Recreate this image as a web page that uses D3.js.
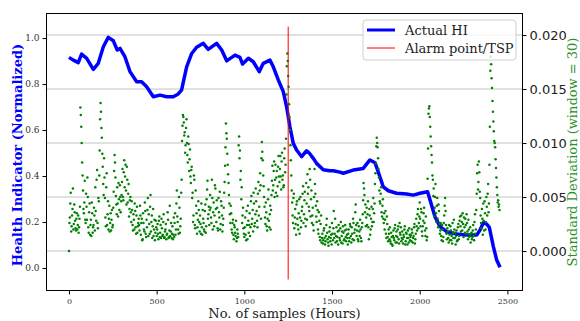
<!DOCTYPE html>
<html>
<head>
<meta charset="utf-8">
<script src="https://d3js.org/d3.v7.min.js"></script>
<style>
  body { margin: 0; background: #fff; }
  svg text { font-family: "DejaVu Serif", serif; }
  .axis path { display: none; }
  .axis line { stroke: #000; }
  .l.axis text, .x.axis text { fill: #333; }
  .r.axis text { font-family: "DejaVu Sans", sans-serif; fill: #222; }
</style>
</head>
<body>
<svg id="chart" width="580" height="321"></svg>
<script>
  // health indicator (blue line)
  var hiSample = [0, 25, 53, 72, 101, 139, 167, 196, 224, 253, 275, 291, 319, 348, 386, 414, 443, 481,
    519, 557, 595, 623, 642, 671, 700, 728, 766, 794, 842, 871, 899, 947, 975, 990, 1023, 1051,
    1085, 1108, 1146, 1165, 1194, 1222, 1241, 1260, 1279, 1298, 1327, 1355, 1370, 1393, 1412, 1450,
    1488, 1507, 1545, 1564, 1621, 1678, 1716, 1745, 1773, 1792, 1821, 1868, 1926, 1963, 2002, 2045,
    2059, 2087, 2116, 2154, 2211, 2268, 2325, 2344, 2363, 2382, 2397, 2420, 2439, 2458];
  var hiValue = [0.916, 0.904, 0.893, 0.930, 0.912, 0.864, 0.890, 0.962, 1.003, 0.988, 0.948, 0.955,
    0.919, 0.854, 0.810, 0.810, 0.788, 0.745, 0.752, 0.745, 0.745, 0.757, 0.774, 0.875, 0.933, 0.960,
    0.977, 0.951, 0.977, 0.948, 0.901, 0.926, 0.916, 0.887, 0.912, 0.897, 0.854, 0.890, 0.904, 0.875,
    0.817, 0.767, 0.701, 0.614, 0.542, 0.513, 0.484, 0.510, 0.500, 0.477, 0.455, 0.427, 0.423, 0.423,
    0.417, 0.412, 0.426, 0.433, 0.470, 0.458, 0.397, 0.353, 0.336, 0.325, 0.322, 0.317, 0.325, 0.332,
    0.296, 0.223, 0.180, 0.158, 0.148, 0.143, 0.143, 0.165, 0.197, 0.191, 0.177, 0.093, 0.035, 0.003];

  // rolling std (window = 30) in units of 1e-3, read every 5 samples (samples 0, 5, 10, ...)
  var stdStep = 5;
  var stdE3 = [
    0.0, 3.1, 5.4, 2.3, 3.9, 2.0, 4.3, 2.8, 1.9, 3.5, 2.4, 1.7, 3.0, 13.3, 11.5, 8.2, 5.6, 3.5, 6.5, 2.6,
    4.1, 6.8, 2.2, 3.6, 1.5, 2.9, 4.5, 1.7, 2.4, 3.3, 5.9, 2.8, 7.5, 2.1, 4.6, 9.3, 13.7, 11.4, 9.0, 6.2,
    8.6, 4.9, 2.3, 7.2, 3.4, 2.0, 4.2, 2.6, 1.9, 3.8, 2.4, 5.5, 8.9, 6.8, 4.3, 5.9, 3.2, 4.8, 6.1, 3.6,
    5.2, 7.6, 4.7, 8.4, 6.9, 5.6, 7.8, 4.5, 6.2, 3.9, 5.0, 2.7, 3.8, 1.9, 2.9, 4.4, 2.2, 3.3, 1.7, 2.6,
    2.4, 4.2, 1.5, 3.0, 1.1, 2.6, 1.8, 3.7, 1.3, 2.2, 4.9, 3.4, 1.6, 5.2, 2.7, 1.2, 3.9, 2.0, 1.0, 2.8,
    1.4, 2.5, 1.1, 3.2, 1.7, 1.2, 2.1, 1.5, 3.4, 1.3, 2.0, 1.1, 1.6, 2.9, 1.3, 4.2, 1.8, 1.2, 2.3, 1.5,
    1.3, 3.5, 2.0, 5.6, 2.7, 1.6, 4.0, 2.3, 5.4, 10.2, 12.6, 11.9, 11.0, 9.8, 12.2, 8.9, 10.6, 7.4, 9.4, 6.3,
    7.8, 5.4, 3.3, 6.6, 2.1, 4.2, 1.6, 2.9, 3.8, 1.8, 2.5, 4.4, 1.5, 3.0, 2.0, 3.7, 1.7, 4.8, 6.5, 3.4,
    2.4, 5.2, 3.1, 6.6, 2.0, 4.5, 3.3, 5.8, 2.7, 4.0, 1.9, 3.6, 5.5, 2.5, 4.2, 1.8, 3.0, 5.4, 7.9, 11.8,
    10.4, 8.0, 6.3, 4.4, 2.6, 3.5, 1.7, 2.9, 1.1, 2.2, 1.4, 0.9, 2.0, 1.3, 10.6, 9.3, 7.4, 5.9, 3.3, 2.1,
    1.3, 3.1, 1.0, 2.4, 4.2, 1.7, 3.5, 2.2, 5.1, 3.0, 1.8, 4.4, 2.6, 5.8, 3.7, 2.2, 6.4, 4.1, 7.2, 3.0,
    10.1, 8.4, 6.0, 4.1, 2.5, 3.6, 1.9, 4.8, 2.8, 3.4, 2.0, 5.2, 7.9, 6.1, 8.3, 6.6, 5.4, 7.4, 6.0, 8.8,
    6.4, 8.8, 5.7, 9.1, 7.0, 6.1, 9.5, 8.0, 14.5, 18.3, 16.2, 13.6, 11.2, 8.4, 5.6, 3.3, 4.9, 2.1, 3.9, 1.5,
    4.6, 2.4, 3.5, 1.6, 5.0, 2.8, 4.1, 6.0, 3.4, 5.5, 2.3, 4.4, 7.1, 5.9, 3.7, 6.6, 4.8, 2.6, 4.0, 1.9,
    7.6, 5.3, 3.2, 4.6, 2.0, 3.6, 1.3, 2.5, 0.8, 1.6, 1.0, 2.1, 0.6, 1.4, 3.0, 1.1, 0.5, 1.8, 0.9, 1.5,
    2.6, 1.0, 3.7, 1.6, 0.8, 2.2, 1.3, 0.6, 1.9, 1.0, 2.7, 1.4, 0.7, 1.7, 1.1, 2.4, 0.9, 1.5, 0.6, 2.0,
    1.2, 2.3, 0.8, 1.6, 3.0, 1.0, 2.0, 4.3, 1.4, 2.6, 0.9, 1.8, 2.9, 1.2, 2.2, 3.4, 6.3, 5.2, 4.3, 3.1,
    2.4, 4.6, 1.1, 3.3, 2.0, 4.1, 2.7, 4.9, 3.5, 6.2, 8.1, 10.5, 9.6, 7.6, 5.6, 4.4, 5.9, 3.2, 4.8, 2.6,
    2.0, 3.7, 1.2, 2.5, 0.9, 1.6, 2.2, 0.7, 1.3, 0.5, 1.9, 1.0, 2.4, 1.4, 0.8, 2.0, 1.1, 2.6, 1.5, 0.9,
    1.8, 0.7, 1.3, 2.3, 0.9, 1.6, 0.6, 1.2, 2.1, 1.0, 1.5, 2.0, 0.8, 1.4, 2.5, 1.1, 3.0, 1.9, 3.9, 2.6,
    4.5, 2.3, 3.6, 1.4, 2.8, 4.0, 1.9, 3.2, 1.0, 6.7, 12.7, 13.4, 11.5, 9.7, 8.2, 6.6, 5.8, 4.0, 6.2, 2.7,
    4.9, 2.2, 3.7, 1.6, 2.6, 1.0, 2.0, 1.3, 3.3, 4.9, 2.4, 1.1, 1.8, 0.8, 1.5, 2.3, 1.0, 0.7, 1.7, 2.9,
    1.2, 0.6, 1.9, 1.0, 2.5, 1.4, 3.2, 1.8, 2.7, 3.5, 1.3, 2.2, 3.0, 1.6, 2.6, 1.1, 2.0, 1.5, 0.8, 1.7,
    1.3, 2.4, 1.0, 3.4, 2.0, 5.3, 8.0, 6.4, 7.3, 4.9, 2.6, 3.9, 1.5, 2.8, 4.6, 2.0, 5.0, 3.3, 6.2, 4.4,
    11.5, 18.0, 16.0, 13.9, 12.0, 10.2, 9.6, 7.7, 5.9, 4.5, 4.1, 3.8
  ];
  // the samples in between (2.5, 7.5, 12.5, ...)
  var stdE3Mid = [
    2.6, 4.4, 1.8, 3.3, 5.8, 2.5, 3.6, 2.1, 3.0, 2.0, 3.3, 2.2, 4.1, 12.6, 10.0, 7.0, 3.9, 4.5, 2.9, 5.3,
    2.9, 5.0, 1.7, 4.4, 2.4, 1.4, 3.5, 2.2, 4.0, 1.9, 3.7, 6.6, 2.6, 4.9, 7.0, 12.2, 12.9, 10.5, 7.8, 5.2,
    6.8, 3.1, 5.9, 2.4, 4.6, 3.0, 1.8, 3.5, 2.9, 2.2, 4.0, 7.4, 8.2, 5.1, 3.4, 4.4, 6.3, 3.8, 5.0, 4.6,
    6.4, 5.0, 7.3, 5.9, 8.0, 4.3, 6.6, 5.3, 3.2, 4.7, 3.6, 4.6, 2.4, 3.4, 2.0, 3.7, 1.6, 4.1, 2.3, 3.0,
    1.9, 3.3, 2.6, 1.0, 3.5, 2.0, 4.5, 1.6, 2.9, 3.8, 1.4, 2.5, 4.1, 1.8, 3.3, 2.3, 1.4, 2.9, 1.7, 2.2,
    2.0, 1.6, 2.8, 1.3, 2.4, 3.0, 1.4, 2.7, 1.2, 1.8, 2.5, 1.5, 3.6, 1.2, 1.9, 1.4, 2.6, 1.6, 1.1, 3.1,
    2.6, 1.5, 4.4, 3.2, 2.0, 5.0, 1.7, 3.0, 6.6, 11.6, 12.4, 10.7, 9.1, 11.4, 10.0, 8.2, 9.9, 8.5, 6.9, 7.5,
    4.9, 2.7, 7.0, 2.4, 5.6, 3.5, 2.2, 4.6, 2.7, 3.3, 1.6, 2.2, 3.8, 2.6, 1.8, 4.3, 2.3, 5.7, 3.0, 4.1,
    3.8, 4.0, 2.6, 4.9, 3.6, 2.3, 6.1, 3.9, 4.7, 2.1, 4.9, 3.1, 2.0, 4.6, 3.3, 2.4, 4.0, 6.4, 9.6, 10.9,
    9.0, 7.1, 5.2, 3.4, 4.2, 2.0, 2.6, 1.5, 2.4, 1.7, 2.8, 1.2, 1.6, 9.8, 8.6, 6.6, 4.8, 2.6, 4.0, 1.6,
    2.2, 1.5, 3.7, 1.1, 2.8, 2.4, 1.4, 4.6, 2.5, 3.8, 5.4, 2.3, 3.4, 4.6, 2.8, 5.3, 3.3, 5.6, 6.1, 8.6,
    9.2, 7.0, 5.0, 3.1, 4.5, 2.3, 3.0, 5.7, 2.2, 4.2, 3.8, 6.5, 5.6, 7.4, 5.0, 8.0, 6.8, 5.1, 7.8, 6.9,
    7.6, 6.9, 8.3, 6.6, 5.9, 8.6, 7.3, 10.4, 17.1, 17.6, 15.2, 12.4, 9.8, 7.0, 4.5, 2.6, 5.3, 3.1, 2.5, 4.3,
    3.0, 2.0, 4.8, 3.1, 2.2, 3.7, 5.3, 2.6, 4.7, 3.0, 6.3, 2.9, 5.3, 4.1, 7.6, 3.2, 5.6, 3.3, 2.4, 5.0,
    6.2, 4.2, 2.7, 3.8, 1.6, 2.8, 1.0, 3.3, 1.2, 0.7, 1.9, 1.2, 0.9, 2.4, 1.7, 0.8, 1.3, 2.2, 1.2, 0.6,
    1.6, 2.1, 1.2, 3.0, 1.4, 0.9, 1.8, 2.4, 1.2, 2.1, 0.8, 1.8, 2.3, 1.0, 1.9, 1.3, 2.0, 1.2, 1.6, 0.9,
    2.5, 1.4, 2.2, 1.1, 2.6, 1.7, 3.6, 2.4, 1.9, 1.1, 2.3, 1.4, 2.0, 0.9, 2.6, 4.7, 5.8, 3.6, 2.3, 4.0,
    3.4, 2.2, 3.9, 1.5, 3.0, 2.3, 3.9, 2.7, 4.4, 7.2, 9.7, 10.0, 8.6, 6.8, 4.6, 5.3, 3.6, 4.2, 3.0, 3.5,
    2.9, 1.6, 3.2, 1.3, 2.0, 1.1, 0.9, 1.7, 0.6, 1.4, 1.2, 2.1, 0.8, 1.8, 1.3, 2.3, 0.7, 1.7, 2.2, 1.2,
    1.1, 1.5, 2.0, 0.6, 1.7, 1.2, 1.9, 0.8, 1.5, 1.3, 0.9, 1.7, 1.2, 2.2, 0.7, 1.6, 2.3, 3.4, 2.1, 3.2,
    3.0, 3.9, 1.8, 2.3, 3.5, 2.6, 1.4, 2.1, 1.3, 9.5, 13.2, 12.4, 10.6, 8.9, 7.0, 5.1, 3.2, 5.0, 3.5, 4.2,
    3.0, 4.3, 2.5, 1.9, 1.4, 2.4, 0.9, 2.6, 4.2, 3.7, 1.6, 2.1, 1.2, 2.4, 1.0, 1.9, 1.4, 2.6, 1.2, 2.0,
    1.7, 1.4, 0.9, 2.2, 1.1, 2.8, 2.3, 3.3, 1.9, 2.5, 3.1, 1.7, 2.4, 3.4, 1.8, 2.9, 1.3, 2.2, 1.6, 1.1,
    1.9, 1.4, 2.7, 1.6, 3.8, 7.2, 5.7, 8.3, 5.5, 3.3, 2.1, 3.0, 4.4, 1.9, 3.5, 2.7, 4.1, 5.3, 3.6, 8.0,
    16.7, 17.3, 15.1, 12.9, 11.1, 10.0, 8.5, 6.8, 5.2, 4.7, 4.3
  ];

  var alarmSample = 1250;
  var alarmSpan = [-0.05, 1.05];

  var xTicks = [0, 500, 1000, 1500, 2000, 2500];
  var leftTicks = [0.0, 0.2, 0.4, 0.6, 0.8, 1.0];
  var rightTicks = [0.000, 0.005, 0.010, 0.015, 0.020];

  var legendLabels = ["Actual HI", "Alarm point/TSP"];

  var margin = {top: 13, right: 57, bottom: 30, left: 46};
  var W = 580, H = 321;

  var svg = d3.select("#chart");

  var x = d3.scaleLinear().domain([-131, 2589]).range([margin.left, W - margin.right]);
  var yL = d3.scaleLinear().domain([-0.1, 1.109]).range([H - margin.bottom, margin.top]);
  var yR = d3.scaleLinear().domain([-0.0037, 0.02204]).range([H - margin.bottom, margin.top]);

  // grid from the right axis
  svg.append("g")
    .selectAll("line")
    .data(rightTicks).enter()
    .append("line")
    .attr("x1", margin.left).attr("x2", W - margin.right)
    .attr("y1", function(d) { return yR(d); })
    .attr("y2", function(d) { return yR(d); })
    .attr("stroke", "#c4c4c4")
    .attr("stroke-width", 1);

  // actual HI
  var hiData = hiSample.map(function(s, i) { return [s, hiValue[i]]; });
  svg.append("path")
    .datum(hiData)
    .attr("fill", "none")
    .attr("stroke", "#0000ff")
    .attr("stroke-width", 3.5)
    .attr("stroke-linejoin", "round")
    .attr("d", d3.line()
      .x(function(d) { return x(d[0]); })
      .y(function(d) { return yL(d[1]); }));

  // alarm line
  svg.append("line")
    .attr("x1", x(alarmSample)).attr("x2", x(alarmSample))
    .attr("y1", yL(alarmSpan[0])).attr("y2", yL(alarmSpan[1]))
    .attr("stroke", "red")
    .attr("stroke-width", 1);

  // std scatter
  var stdPts = stdE3.map(function(v, i) { return [i * stdStep, v]; })
    .concat(stdE3Mid.map(function(v, i) { return [i * stdStep + stdStep / 2, v]; }));
  svg.append("g")
    .selectAll("circle")
    .data(stdPts).enter()
    .append("circle")
    .attr("cx", function(d) { return x(d[0]); })
    .attr("cy", function(d) { return yR(d[1] / 1000); })
    .attr("r", 1.25)
    .attr("fill", "#008000");

  // frame
  svg.append("rect")
    .attr("x", margin.left + 0.5).attr("y", margin.top + 0.5)
    .attr("width", W - margin.left - margin.right - 1)
    .attr("height", H - margin.top - margin.bottom - 1)
    .attr("fill", "none")
    .attr("stroke", "#000")
    .attr("stroke-width", 1);

  // axes
  svg.append("g")
    .attr("class", "x axis")
    .attr("transform", "translate(0," + (H - margin.bottom) + ")")
    .call(d3.axisBottom(x).tickValues(xTicks).tickSize(3.5).tickPadding(4).tickFormat(d3.format("d")))
    .selectAll("text").style("font-size", "8px");

  svg.append("g")
    .attr("class", "l axis")
    .attr("transform", "translate(" + margin.left + ",0)")
    .call(d3.axisLeft(yL).tickValues(leftTicks).tickSize(3.5).tickPadding(3).tickFormat(d3.format(".1f")))
    .selectAll("text").style("font-size", "9px");

  svg.append("g")
    .attr("class", "r axis")
    .attr("transform", "translate(" + (W - margin.right) + ",0)")
    .call(d3.axisRight(yR).tickValues(rightTicks).tickSize(3.5).tickPadding(3).tickFormat(d3.format(".3f")))
    .selectAll("text").style("font-size", "13px");

  // axis labels
  svg.append("text")
    .attr("transform", "translate(17," + (margin.top + (H - margin.top - margin.bottom) / 2 + 3) + ") rotate(-90)")
    .attr("text-anchor", "middle")
    .attr("dominant-baseline", "central")
    .style("font-size", "13px")
    .style("font-weight", "bold")
    .attr("fill", "#0000ff")
    .text("Health Indicator (Normalized)");

  svg.append("text")
    .attr("transform", "translate(572," + (margin.top + (H - margin.top - margin.bottom) / 2) + ") rotate(-90)")
    .attr("text-anchor", "middle")
    .attr("dominant-baseline", "central")
    .style("font-size", "13px")
    .attr("fill", "#2a912a")
    .text("Standard Deviation (window = 30)");

  svg.append("text")
    .attr("x", margin.left + (W - margin.left - margin.right) / 2)
    .attr("y", 318)
    .attr("text-anchor", "middle")
    .style("font-size", "13px")
    .attr("fill", "#222")
    .text("No. of samples (Hours)");

  // legend
  var lg = svg.append("g").attr("transform", "translate(363,20)");
  lg.append("rect")
    .attr("width", 153).attr("height", 40)
    .attr("rx", 3)
    .attr("fill", "#fff").attr("fill-opacity", 0.8)
    .attr("stroke", "#d0d0d0");
  lg.append("line").attr("x1", 4).attr("x2", 32).attr("y1", 10).attr("y2", 10)
    .attr("stroke", "#0000ff").attr("stroke-width", 3);
  lg.append("line").attr("x1", 4).attr("x2", 32).attr("y1", 28).attr("y2", 28)
    .attr("stroke", "red").attr("stroke-width", 1);
  lg.selectAll("text.lbl")
    .data(legendLabels).enter()
    .append("text")
    .attr("class", "lbl")
    .attr("x", 42)
    .attr("y", function(d, i) { return 15 + i * 18; })
    .style("font-family", "'DejaVu Serif', serif")
    .style("font-size", "13px")
    .attr("fill", "#222")
    .text(function(d) { return d; });
</script>
</body>
</html>
